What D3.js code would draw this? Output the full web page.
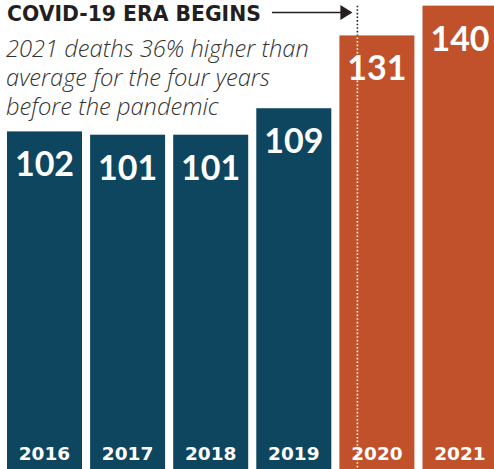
<!DOCTYPE html>
<html>
<head>
<meta charset="utf-8">
<script src="https://cdn.jsdelivr.net/npm/d3@7"></script>
<style>
  body { margin: 0; background: #fff; }
  svg { display: block; }
</style>
</head>
<body>
<svg width="494" height="469"></svg>
<script>
// deaths per year (thousands)
var years = ['2016', '2017', '2018', '2019', '2020', '2021'];
var deaths = [102, 101, 101, 109, 131, 140];
var covidYears = ['2020', '2021'];

var title = 'COVID-19 ERA BEGINS';
var subtitleLines = [
    '2021 deaths 36% higher than',
    'average for the four years',
    'before the pandemic'
];

var width = 494, height = 469;
var navy = '#0f465f', orange = '#c0512a';

var data = years.map((y, i) => ({ year: y, value: deaths[i] }));

var svg = d3.select('svg');

var x = d3.scaleBand()
    .domain(years)
    .range([7, 497.5])
    .paddingInner(0.0975)
    .paddingOuter(0);

var y = d3.scaleLinear()
    .domain([0, 141.7])
    .range([height, 0]);

// shrink/grow a text so it spans the given width
function fitWidth(sel, target) {
    sel.each(function() {
        var size = parseFloat(this.style.fontSize);
        var len = this.getComputedTextLength();
        if (len > 0) d3.select(this).style('font-size', (size * target / len) + 'px');
    });
}

// bars
svg.append('g')
    .selectAll('rect')
    .data(data)
    .enter()
    .append('rect')
    .attr('x', d => x(d.year))
    .attr('y', d => y(d.value))
    .attr('width', x.bandwidth())
    .attr('height', d => y(0) - y(d.value))
    .attr('fill', d => covidYears.includes(d.year) ? orange : navy);

// dotted marker where covid era starts
var eraX = x(covidYears[0]) + 18;
var firstCovid = deaths[years.indexOf(covidYears[0])];
var topCovid = d3.max(deaths);

svg.append('line')
    .attr('x1', eraX).attr('x2', eraX)
    .attr('y1', y(topCovid)).attr('y2', y(firstCovid))
    .attr('stroke', '#231f20')
    .attr('stroke-width', 1.6)
    .attr('stroke-dasharray', '1.6,2');

svg.append('line')
    .attr('x1', eraX).attr('x2', eraX)
    .attr('y1', y(firstCovid) + 2).attr('y2', height)
    .attr('stroke', '#fff')
    .attr('stroke-width', 1.6)
    .attr('stroke-dasharray', '1.6,2');

// value labels
svg.append('g')
    .selectAll('text')
    .data(data)
    .enter()
    .append('text')
    .attr('x', d => x(d.year) + x.bandwidth() / 2)
    .attr('y', d => y(d.value) + 45)
    .attr('text-anchor', 'middle')
    .style('font-family', 'Lato')
    .style('font-weight', 700)
    .style('font-size', '34px')
    .attr('fill', '#fff')
    .text(d => d.value);

// year labels
svg.append('g')
    .selectAll('text')
    .data(data)
    .enter()
    .append('text')
    .attr('x', d => x(d.year) + x.bandwidth() / 2)
    .attr('y', height - 9)
    .attr('text-anchor', 'middle')
    .style('font-family', 'DejaVu Sans')
    .style('font-weight', 700)
    .style('font-size', '18.5px')
    .attr('fill', '#fff')
    .text(d => d.year);

// header
svg.append('text')
    .attr('x', 7)
    .attr('y', 20.5)
    .style('font-family', 'DejaVu Sans')
    .style('font-weight', 700)
    .style('font-size', '18px')
    .attr('fill', '#231f20')
    .text(title)
    .call(fitWidth, 254);

// arrow pointing at the marker
svg.append('line')
    .attr('x1', 272).attr('x2', eraX - 14)
    .attr('y1', 12.5).attr('y2', 12.5)
    .attr('stroke', '#231f20')
    .attr('stroke-width', 1.6);

svg.append('path')
    .attr('d', 'M' + (eraX - 17) + ',5 L' + (eraX - 5) + ',12.5 L' + (eraX - 17) + ',20 Z')
    .attr('fill', '#231f20');

// subtitle as one text block, one tspan per line
var sub = svg.append('text')
    .attr('y', 57)
    .style('font-family', 'Open Sans')
    .style('font-style', 'italic')
    .style('font-weight', 300)
    .style('font-size', '22px')
    .attr('fill', '#333');

sub.selectAll('tspan')
    .data(subtitleLines)
    .enter()
    .append('tspan')
    .attr('x', 6)
    .attr('dy', (d, i) => i === 0 ? 0 : 29.2)
    .text(d => d);

// size the block from the first line
var firstLen = sub.select('tspan').node().getComputedTextLength();
sub.style('font-size', (22 * 303 / firstLen) + 'px');
</script>
</body>
</html>
